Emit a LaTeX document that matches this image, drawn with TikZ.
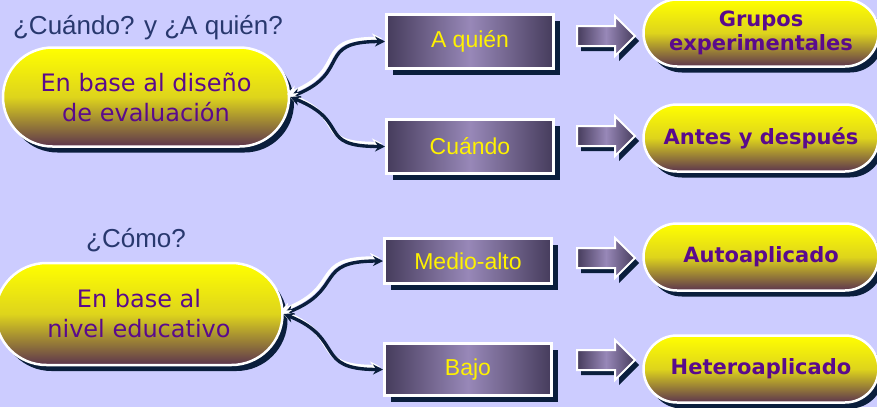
\documentclass[tikz,border=0pt]{standalone}
\usepackage{fontspec}
\setmainfont{Liberation Sans}
\newfontfamily\ovalFont{DejaVu Sans}
\usetikzlibrary{shapes.misc,shapes.arrows,shadows,arrows.meta}
\definecolor{slideBg}{RGB}{204,204,255}
\definecolor{titleBlue}{RGB}{40,56,110}
\definecolor{ovalText}{RGB}{90,10,140}
\definecolor{ovalTop}{RGB}{255,255,0}
\definecolor{ovalMid}{RGB}{222,212,28}
\definecolor{ovalBottom}{RGB}{92,52,78}
\definecolor{boxDark}{RGB}{70,60,92}
\definecolor{boxLight}{RGB}{152,136,184}
\definecolor{shadowNavy}{RGB}{10,30,60}

\begin{document}
\begin{tikzpicture}[x=1pt,y=-1pt,
  ovalBox/.style={rounded rectangle,draw=white,line width=2.5pt,
    top color=ovalTop,bottom color=ovalBottom,middle color=ovalMid,
    text=ovalText,align=center,inner sep=0pt,
    drop shadow={shadow xshift=5pt,shadow yshift=-6pt,fill=shadowNavy,opacity=1}},
  leftOval/.style={ovalBox,font=\ovalFont\fontsize{24}{30}\selectfont},
  rightOval/.style={ovalBox,font=\ovalFont\bfseries\fontsize{21}{24}\selectfont,
    minimum width=235pt,minimum height=67pt},
  stageBox/.style={rectangle,draw=white,line width=3pt,
    left color=boxDark,right color=boxDark,middle color=boxLight,
    text=yellow,font=\fontsize{23}{26}\selectfont,minimum width=167pt,
    drop shadow={shadow xshift=6pt,shadow yshift=-6pt,fill=shadowNavy,opacity=1}},
  fatArrow/.style={single arrow,draw=white,line width=2pt,
    left color=boxDark,right color=boxDark,middle color=boxLight,
    inner sep=9pt,minimum height=58pt,single arrow head extend=10pt,anchor=tail,
    drop shadow={shadow xshift=4pt,shadow yshift=-5pt,fill=shadowNavy,opacity=1}},
  titleText/.style={text=titleBlue,font=\fontsize{26}{30}\selectfont},
  linkTips/.style={{Stealth[length=10pt,width=10pt]}-{Stealth[length=10pt,width=10pt]}},
  linkDark/.style={draw=shadowNavy,line width=3.4pt,linkTips},
  linkLight/.style={draw=white,line width=3.4pt,linkTips}
]
\fill[slideBg] (0,0) rectangle (877,407);
\useasboundingbox (0,0) rectangle (877,407);

% upper block
\node[titleText] (qTitle) at (148,28) {¿Cuándo? y ¿A quién?};
\node[leftOval,minimum width=286pt,minimum height=99pt] (design) at (146,97) {En base al diseño\\de evaluación};
\node[stageBox,minimum height=54pt] (who) at (470,41.5) {A quién};
\node[stageBox,minimum height=54pt] (when) at (470,146.5) {Cuándo};
\node[fatArrow] (arrWho) at (576,36) {};
\node[fatArrow] (arrWhen) at (576,136) {};
\node[rightOval] (groups) at (761,33) {Grupos\\experimentales};
\node[rightOval] (before) at (761,138) {Antes y después};

\draw[linkLight] ([shift={(-3,-3)}]design.east) .. controls +(62,-25) and +(-70,0) .. ([shift={(-3,-3)}]who.west);
\draw[linkDark] (design.east) .. controls +(62,-25) and +(-70,0) .. (who.west);
\draw[linkLight] ([shift={(-3,-3)}]design.east) .. controls +(62,25) and +(-70,0) .. ([shift={(-3,-3)}]when.west);
\draw[linkDark] (design.east) .. controls +(62,25) and +(-70,0) .. (when.west);

% lower block
\node[titleText] (hTitle) at (136,240) {¿Cómo?};
\node[leftOval,minimum width=287pt,minimum height=102pt] (level) at (139,314) {En base al\\nivel educativo};
\node[stageBox,minimum height=45pt] (high) at (468,261) {Medio-alto};
\node[stageBox,minimum height=52pt] (low) at (468,369.5) {Bajo};
\node[fatArrow] (arrHigh) at (576,258) {};
\node[fatArrow] (arrLow) at (576,360) {};
\node[rightOval] (self) at (761,257) {Autoaplicado};
\node[rightOval] (other) at (761,369) {Heteroaplicado};

\draw[linkLight] ([shift={(-3,-3)}]level.east) .. controls +(62,-25) and +(-70,0) .. ([shift={(-3,-3)}]high.west);
\draw[linkDark] (level.east) .. controls +(62,-25) and +(-70,0) .. (high.west);
\draw[linkLight] ([shift={(-3,-3)}]level.east) .. controls +(62,25) and +(-70,0) .. ([shift={(-3,-3)}]low.west);
\draw[linkDark] (level.east) .. controls +(62,25) and +(-70,0) .. (low.west);
\end{tikzpicture}
\end{document}
